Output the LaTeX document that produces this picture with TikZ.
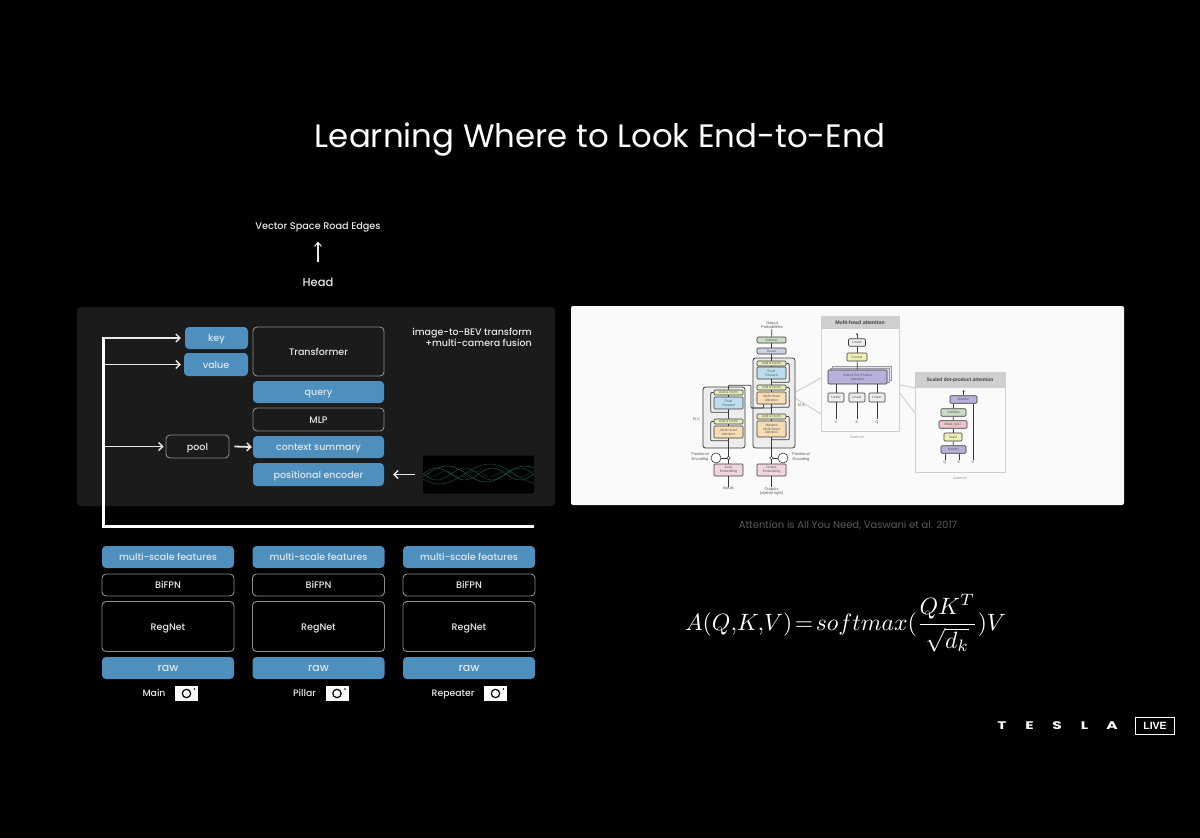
\documentclass[tikz,border=0pt]{standalone}
\usepackage{fontspec}
\usepackage{amsmath}
\usetikzlibrary{arrows.meta,calc,shapes.geometric}
\setmainfont{Poppins}
\newfontfamily\medfont{Poppins Medium}
\newfontfamily\smallfont{Liberation Sans}
\definecolor{bluebox}{HTML}{4F8FBD}
\definecolor{bluetxt}{HTML}{DCE8F0}
\definecolor{edgegray}{HTML}{8C8C8C}
\definecolor{panelgray}{HTML}{1B1B1B}
\definecolor{txtw}{HTML}{E8E8E8}
\definecolor{sheet}{HTML}{FAFAFA}
\definecolor{capgray}{HTML}{5A5A5A}
\definecolor{aAdd}{HTML}{E6EBB8}
\definecolor{aFF}{HTML}{BCDDEE}
\definecolor{aMH}{HTML}{F6DDB4}
\definecolor{aEmb}{HTML}{EFD6DC}
\definecolor{aSoft}{HTML}{CBDCC4}
\definecolor{aLin}{HTML}{CDD2E2}
\definecolor{aGrey}{HTML}{EDEDED}
\definecolor{aPur}{HTML}{B6B2DC}
\definecolor{aCon}{HTML}{F0F0B4}
\definecolor{aMask}{HTML}{F0C4CC}
\definecolor{aLine}{HTML}{3A3A3A}
\definecolor{aHead}{HTML}{CFCFCF}
\definecolor{waveA}{HTML}{174D38}
\definecolor{waveB}{HTML}{235748}
\tikzset{
  bluerect/.style 2 args={rectangle,rounded corners=4pt,fill=bluebox,text=bluetxt,inner sep=0pt,minimum width=#1,minimum height=#2,text height=9.2pt,text depth=2pt,font=\medfont\fontsize{9.5}{12}\selectfont},
  outrect/.style 2 args={rectangle,rounded corners=4pt,draw=edgegray,line width=0.9pt,fill=none,text=txtw,inner sep=0pt,minimum width=#1,minimum height=#2,text height=9.2pt,text depth=2pt,font=\medfont\fontsize{9.5}{12}\selectfont},
  lbl/.style={text=txtw,inner sep=0pt,font=\medfont\fontsize{9.5}{12}\selectfont},
  arrowthin/.style={draw=txtw,line width=1.8pt,-{Straight Barb[length=4pt,width=8pt,line width=1.4pt]}},
  busline/.style={draw=white,line width=3pt,line cap=butt,line join=miter},
  sb/.style n args={3}{rectangle,rounded corners=1pt,draw=aLine,line width=0.6pt,fill=#1,inner sep=0pt,minimum width=#2,minimum height=#3,text=capgray,align=center,font=\smallfont\fontsize{3.4}{3.7}\selectfont},
  st/.style={inner sep=0pt,text=capgray,align=center,font=\smallfont\fontsize{4}{4.6}\selectfont},
  sl/.style={draw=aLine,line width=0.7pt},
  sm/.style={draw=aLine,line width=0.7pt,rounded corners=1pt},
  zoomline/.style={draw=aHead,line width=1pt},
  grp/.style={draw=aLine,line width=0.8pt,fill=aGrey,rounded corners=2.5pt},
  frameA/.style={draw=aHead,line width=0.9pt,fill=sheet},
  headbar/.style={fill=aHead,inner sep=0pt,text=black!75,font=\smallfont\bfseries\fontsize{5.2}{6}\selectfont},
  wave/.style={line width=0.5pt,smooth},
}
\newcommand{\cameraicon}[2]{%
  \fill[white] (#1-11.5,#2-7.5) rectangle (#1+11.5,#2+7.5);
  \draw[black,line width=1.2pt] (#1,#2) circle (4.2pt);
  \fill[black] (#1+8,#2-4.5) circle (0.9pt);
}
\begin{document}
\begin{tikzpicture}[x=1pt,y=-1pt]
\useasboundingbox (0,0) rectangle (1200,838);
\fill[black] (0,0) rectangle (1200,838);

% title
\node[text=white,inner sep=0pt,font=\fontsize{32.4}{38}\selectfont] (title) at (600,140) {Learning Where to Look End-to-End};

% left panel
\fill[panelgray,rounded corners=4pt] (77,307) rectangle (555,506);

% head
\node[lbl,font=\medfont\fontsize{9.7}{11}\selectfont] (vsre) at (318,227.5) {Vector Space Road Edges};
\node[lbl,font=\medfont\fontsize{11.5}{14}\selectfont] (head) at (318,282.5) {Head};
\draw[draw=txtw,line width=1.2pt,-{Straight Barb[length=4pt,width=7pt,line width=1pt]}] ([yshift=16pt]head.north) -- ([yshift=-9pt]vsre.south);

% transformer stack
\node[bluerect={63pt}{22pt}] (key) at (216.5,338) {key};
\node[bluerect={64pt}{23pt}] (value) at (216,364.5) {value};
\node[outrect={131pt}{49pt}] (trans) at (318.5,351.5) {Transformer};
\node[bluerect={131pt}{22pt}] (query) at (318.5,392) {query};
\node[outrect={131pt}{23pt}] (mlp) at (318.5,419.5) {MLP};
\node[bluerect={131pt}{22pt}] (ctx) at (318.5,447) {context summary};
\node[bluerect={131pt}{23pt}] (pos) at (318.5,474.5) {positional encoder};
\node[outrect={63pt}{23pt}] (pool) at (197.5,446.5) {pool};
\node[lbl,align=right,anchor=north east,font=\medfont\fontsize{9.5}{11}\selectfont] (i2b) at (532,328) {image-to-BEV transform\\+multi-camera fusion};

% positional wave
\node[rectangle,rounded corners=2pt,fill=black,inner sep=0pt,minimum width=111pt,minimum height=38pt] (wavebox) at (478.5,474.5) {};
\begin{scope}
\clip (423,456) rectangle (534,493);
\draw[wave,waveA] plot[domain=423:534,samples=70] (\x,{474+6*sin((\x-423)*6.5)});
\draw[wave,waveB] plot[domain=423:534,samples=70] (\x,{474-6*sin((\x-423)*6.5)});
\draw[wave,waveA] plot[domain=423:534,samples=70] (\x,{474+10*sin((\x-423)*3.6+30)});
\draw[wave,waveB] plot[domain=423:534,samples=70] (\x,{474+8*sin((\x-423)*4.6+160)});
\draw[wave,waveA!70!black] plot[domain=423:534,samples=70] (\x,{474+3*sin((\x-423)*12)});
\end{scope}

% arrows within panel
\draw[arrowthin] ([xshift=5pt]pool.east) -- ([xshift=-1pt]ctx.west);
\draw[arrowthin] ([xshift=-8pt]wavebox.west) -- ([xshift=9pt]pos.east);

% bus
\coordinate (busEnd) at (534,526);
\coordinate (busCorner) at (103.5,526);
\coordinate (busTop) at (103.5,338);
\draw[busline] (busEnd) -- (busCorner) -- (busTop |- 0,336.5);
\draw[arrowthin] (busTop) -- ([xshift=-4pt]key.west);
\draw[arrowthin] (busTop |- value.west) -- ([xshift=-3pt]value.west);
\draw[arrowthin] (busTop |- pool.west) -- ([xshift=-2pt]pool.west);

% bottom columns
\foreach \c/\n/\lab/\lx/\cx in {168/A/Main/154/186.5, 318.5/B/Pillar/304.5/337, 469/C/Repeater/453/495.5}{
  \node[bluerect={132pt}{22pt}] (ms\n) at (\c,557) {multi-scale features};
  \node[outrect={132pt}{22pt}] (bi\n) at (\c,585) {BiFPN};
  \node[outrect={132pt}{50pt}] (rn\n) at (\c,626.5) {RegNet};
  \node[bluerect={132pt}{22pt},font=\medfont\fontsize{11}{13}\selectfont] (raw\n) at (\c,668) {raw};
  \node[lbl,anchor=base,font=\medfont\fontsize{9.3}{11}\selectfont] (cam\n) at (\lx,696.5) {\lab};
  \cameraicon{\cx}{693.5}
}

% white sheet
\fill[sheet,rounded corners=2pt] (571,306) rectangle (1124,505);

% zoom lines
\coordinate (zA) at (790,395);
\coordinate (zB) at (892,383);
\draw[zoomline] (zA) -- (821,378);
\draw[zoomline] (zA) -- (821,414);
\draw[zoomline] (zB) -- (915,388);
\draw[zoomline] (zB) -- (915,413);

% transformer: groups
\draw[grp] (703,387) rectangle (745,448);
\draw[grp] (753,358) rectangle (795,448);

% transformer: encoder
\node[sb={aAdd}{29pt}{5pt}] (ean1) at (728.5,392.5) {Add \& Norm};
\node[sb={aFF}{29pt}{12pt}] (eff) at (728.5,403) {Feed\\Forward};
\node[sb={aAdd}{29pt}{5pt}] (ean2) at (728.5,421.5) {Add \& Norm};
\node[sb={aMH}{29pt}{12pt}] (emh) at (728.5,432) {Multi-Head\\Attention};
\node[sb={aEmb}{29pt}{12pt}] (eemb) at (728.5,470) {Input\\Embedding};
\node[draw=aLine,line width=0.5pt,circle,inner sep=0pt,minimum size=3.4pt] (eplus) at (728.5,458) {};
\node[draw=aLine,line width=0.6pt,fill=white,circle,inner sep=0pt,minimum size=10pt] (esin) at (716,458) {};
\node[st] (epos) at (700,457) {Positional\\Encoding};
\node[st] (einp) at (728.5,489) {Inputs};
\node[st] (eN) at (697,419) {N$\times$};

% transformer: decoder
\node[sb={aSoft}{29pt}{6pt}] (soft) at (771.5,340) {Softmax};
\node[sb={aLin}{29pt}{6pt}] (lin) at (771.5,351) {Linear};
\node[sb={aAdd}{29pt}{5pt}] (dan1) at (771.5,363.5) {Add \& Norm};
\node[sb={aFF}{29pt}{12pt}] (dff) at (771.5,373) {Feed\\Forward};
\node[sb={aAdd}{29pt}{5pt}] (dan2) at (771.5,387.5) {Add \& Norm};
\node[sb={aMH}{29pt}{12pt}] (dmh) at (771.5,398) {Multi-Head\\Attention};
\node[sb={aAdd}{29pt}{5pt}] (dan3) at (771.5,416.5) {Add \& Norm};
\node[sb={aMH}{29pt}{16pt}] (dmm) at (771.5,429) {Masked\\Multi-Head\\Attention};
\node[sb={aEmb}{29pt}{12pt}] (demb) at (771.5,470) {Output\\Embedding};
\node[draw=aLine,line width=0.5pt,circle,inner sep=0pt,minimum size=3.4pt] (dplus) at (771.5,458) {};
\node[draw=aLine,line width=0.6pt,fill=white,circle,inner sep=0pt,minimum size=10pt] (dsin) at (783,458) {};
\node[st] (dpos) at (801,457) {Positional\\Encoding};
\node[st] (doutp) at (771.5,491.5) {Outputs\\(shifted right)};
\node[st] (dprob) at (772,325) {Output\\Probabilities};
\node[st] (dN) at (802,405) {N$\times$};

% transformer: links
\draw[sl] (einp) -- (eemb);
\draw[sl] (eemb) -- (eplus);
\draw[sl] (eplus) -- (emh);
\draw[sl] (esin) -- (eplus);
\draw[sl] (emh) -- (ean2);
\draw[sl] (ean2) -- (eff);
\draw[sl] (eff) -- (ean1);
\draw[sl] (doutp) -- (demb);
\draw[sl] (demb) -- (dplus);
\draw[sl] (dplus) -- (dmm);
\draw[sl] (dsin) -- (dplus);
\draw[sl] (dmm) -- (dan3);
\draw[sl] (dan3) -- (dmh);
\draw[sl] (dmh) -- (dan2);
\draw[sl] (dan2) -- (dff);
\draw[sl] (dff) -- (dan1);
\draw[sl] (dan1) -- (lin);
\draw[sl] (lin) -- (soft);
\draw[sl] (soft) -- (dprob);
% residuals
\draw[sm] ([yshift=-2.5pt]emh.south) -| ([xshift=-3pt]emh.west) |- (ean2.west);
\draw[sm] ([yshift=-3pt]eff.south) -| ([xshift=-3pt]eff.west) |- (ean1.west);
\draw[sm] ([yshift=-2.5pt]dmm.south) -| ([xshift=3pt]dmm.east) |- (dan3.east);
\draw[sm] ([yshift=-3pt]dmh.south) -| ([xshift=3pt]dmh.east) |- (dan2.east);
\draw[sm] ([yshift=-3pt]dff.south) -| ([xshift=3pt]dff.east) |- (dan1.east);
% encoder to decoder
\coordinate (crossA) at (751,408);
\draw[sm] (ean1.north) -- ++(0,-4.5) -| (crossA) -| ([xshift=-8pt]dmh.south);
\draw[sm] (crossA) -| (dmh.south);

% multi-head panel
\draw[frameA] (821,316) rectangle (899,431);
\node[headbar,minimum width=78pt,minimum height=13pt] (mhh) at (860,322.5) {Multi-head attention};
\node[sb={aGrey}{17pt}{7.5pt}] (mlin) at (857,342.5) {Linear};
\node[sb={aCon}{20pt}{8pt}] (mcon) at (857,357) {Concat};
\draw[draw=aLine!50,line width=0.5pt,fill=aPur!35] (832,366) rectangle (891,380);
\draw[draw=aLine!50,line width=0.5pt,fill=aPur!50] (830,368) rectangle (889,382);
\node[sb={aPur}{59pt}{14pt}] (msd) at (857.5,377) {Scaled Dot-Product\\Attention};
\node[sb={aGrey}{16pt}{9pt}] (ml1) at (836,397.5) {Linear};
\node[sb={aGrey}{16pt}{9pt}] (ml2) at (857,397.5) {Linear};
\node[sb={aGrey}{16pt}{9pt}] (ml3) at (877,397.5) {Linear};
\node[st] (mv) at (836,422) {V};
\node[st] (mk) at (857,422) {K};
\node[st] (mq) at (877,422) {Q};
\node[st,text=capgray!70,font=\smallfont\fontsize{3.6}{4}\selectfont] (mz) at (857,437) {Zoom-In!};
\draw[sl,line width=0.9pt] ([yshift=1pt]mv.north) -- (ml1);
\draw[sl,line width=0.9pt] ([yshift=1pt]mk.north) -- (ml2);
\draw[sl,line width=0.9pt] ([yshift=1pt]mq.north) -- (ml3);
\draw[sl,line width=0.9pt] (ml1.north) -- (ml1.north |- msd.south);
\draw[sl,line width=0.9pt] (ml2.north) -- (ml2.north |- msd.south);
\draw[sl,line width=0.9pt] (ml3.north) -- (ml3.north |- msd.south);
\draw[sl] (msd) -- (mcon);
\draw[sl] (mcon) -- (mlin);
\coordinate (mtop) at (857,333);
\draw[sl,-{Stealth[length=2pt,width=2pt]}] (mlin) -- (mtop);

% scaled dot panel
\draw[frameA] (915,372) rectangle (1005,472);
\node[headbar,minimum width=90pt,minimum height=16pt,font=\smallfont\bfseries\fontsize{4.9}{6}\selectfont] (sdh) at (960,380) {Scaled dot-product attention};
\node[sb={aPur}{27pt}{7.5pt}] (s1) at (963.5,399.5) {MatMul};
\node[sb={aSoft}{25pt}{7.5pt}] (s2) at (953.5,412.5) {SoftMax};
\node[sb={aMask}{28pt}{7.5pt}] (s3) at (953,424.5) {Mask (opt.)};
\node[sb={aCon}{18pt}{8pt}] (s4) at (953,437) {Scale};
\node[sb={aPur}{25pt}{7.5pt}] (s5) at (953.5,449.5) {MatMul};
\node[st] (sq) at (945,462) {Q};
\node[st] (sk) at (959,462) {K};
\node[st] (sv) at (973,462) {V};
\node[st,text=capgray!70,font=\smallfont\fontsize{3.6}{4}\selectfont] (sz) at (960,478) {Zoom-In!};
\draw[sl] (sq.north) -- (sq.north |- s5.south);
\draw[sl] (sk.north) -- (sk.north |- s5.south);
\draw[sl] (s5) -- (s4);
\draw[sl] (s4) -- (s3);
\draw[sl] (s3) -- (s2);
\draw[sl] (s2.north) -- (s2.north |- s1.south);
\draw[sl,line width=1pt] (sv.north) -- (sv.north |- s1.south);
\coordinate (stop) at (963.5,390);
\draw[sl,-{Stealth[length=2pt,width=2pt]}] (s1) -- (stop);

% caption
\node[text=capgray,inner sep=0pt,font=\fontsize{10}{12}\selectfont] (cap) at (848,525.5) {Attention is All You Need, Vaswani et al. 2017};

% formula
\node[text=white,inner sep=0pt,scale=2.36] (formula) at (845.5,623.5) {$\displaystyle A(Q,\!K,\!V)\!=\!softmax(\frac{QK^{T}}{\sqrt{d_k}})V$};

% logo
\node[text=white,inner sep=0pt,font=\bfseries\fontsize{11}{12}\selectfont] (tesla) at (1057,725.5) {\makebox[27.5pt]{\scalebox{1.4}[1]{T}}\makebox[27.5pt]{\scalebox{1.4}[1]{E}}\makebox[27.5pt]{\scalebox{1.4}[1]{S}}\makebox[27.5pt]{\scalebox{1.4}[1]{L}}\makebox[27.5pt]{\scalebox{1.4}[1]{A}}};
\node[draw=white,line width=1.4pt,text=white,inner sep=0pt,minimum width=39pt,minimum height=17pt,font=\smallfont\bfseries\fontsize{10.5}{12}\selectfont] (live) at (1155,726) {LIVE};
\end{tikzpicture}
\end{document}
